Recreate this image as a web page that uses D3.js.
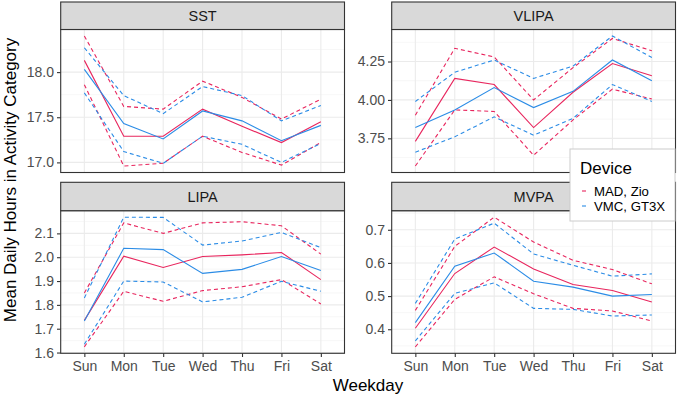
<!DOCTYPE html>
<html><head><meta charset="utf-8">
<script src="https://cdn.jsdelivr.net/npm/d3@7"></script>
<style>body{margin:0;background:#fff}svg{display:block;font-family:"Liberation Sans",Arial,Helvetica,sans-serif}</style>
</head><body><svg id="c" width="685" height="400"></svg>
<script>
const days = ["Sun","Mon","Tue","Wed","Thu","Fri","Sat"];
const facets = ["SST","VLIPA","LIPA","MVPA"];
const devices = ["MAD, Zio","VMC, GT3X"];

// SST
const sstMadMean = [18.13,17.29,17.29,17.59,17.40,17.22,17.45];
const sstMadHi   = [18.40,17.62,17.59,17.90,17.72,17.48,17.70];
const sstMadLo   = [17.86,16.96,16.99,17.29,17.11,16.97,17.22];
const sstVmcMean = [18.03,17.43,17.26,17.57,17.46,17.24,17.41];
const sstVmcHi   = [18.27,17.74,17.54,17.84,17.74,17.46,17.63];
const sstVmcLo   = [17.77,17.12,16.99,17.29,17.20,17.00,17.21];
// VLIPA
const vlipaMadMean = [3.73,4.14,4.10,3.82,4.05,4.237,4.157];
const vlipaMadHi   = [3.90,4.336,4.28,4.00,4.21,4.40,4.32];
const vlipaMadLo   = [3.57,3.935,3.925,3.64,3.87,4.07,4.006];
const vlipaVmcMean = [3.82,3.935,4.08,3.95,4.056,4.26,4.125];
const vlipaVmcHi   = [3.99,4.18,4.26,4.14,4.22,4.416,4.276];
const vlipaVmcLo   = [3.66,3.76,3.89,3.77,3.88,4.10,3.99];
// LIPA
const lipaMadMean = [1.735,2.004,1.957,2.003,2.01,2.02,1.906];
const lipaMadHi   = [1.85,2.144,2.10,2.144,2.149,2.132,2.013];
const lipaMadLo   = [1.624,1.857,1.815,1.86,1.876,1.906,1.804];
const lipaVmcMean = [1.732,2.0375,2.032,1.932,1.949,2.003,1.944];
const lipaVmcHi   = [1.829,2.168,2.167,2.051,2.068,2.104,2.04];
const lipaVmcLo   = [1.635,1.90,1.896,1.8125,1.832,1.899,1.857];
// MVPA
const mvpaMadMean = [0.403,0.568,0.648,0.582,0.535,0.517,0.482];
const mvpaMadHi   = [0.457,0.65,0.738,0.663,0.608,0.58,0.537];
const mvpaMadLo   = [0.347,0.49,0.558,0.507,0.463,0.455,0.425];
const mvpaVmcMean = [0.42,0.59,0.63,0.545,0.527,0.50,0.505];
const mvpaVmcHi   = [0.478,0.672,0.72,0.627,0.593,0.56,0.567];
const mvpaVmcLo   = [0.365,0.508,0.54,0.463,0.46,0.44,0.443];

// tick labels per facet
const sstTicks = [17.0,17.5,18.0];
const vlipaTicks = [3.75,4.00,4.25];
const lipaTicks = [1.6,1.7,1.8,1.9,2.0,2.1];
const mvpaTicks = [0.4,0.5,0.6,0.7];

const series = {
  SST:   {mad:[sstMadMean,sstMadHi,sstMadLo], vmc:[sstVmcMean,sstVmcHi,sstVmcLo], ticks:sstTicks, fmt:d3.format(".1f")},
  VLIPA: {mad:[vlipaMadMean,vlipaMadHi,vlipaMadLo], vmc:[vlipaVmcMean,vlipaVmcHi,vlipaVmcLo], ticks:vlipaTicks, fmt:d3.format(".2f")},
  LIPA:  {mad:[lipaMadMean,lipaMadHi,lipaMadLo], vmc:[lipaVmcMean,lipaVmcHi,lipaVmcLo], ticks:lipaTicks, fmt:d3.format(".1f")},
  MVPA:  {mad:[mvpaMadMean,mvpaMadHi,mvpaMadLo], vmc:[mvpaVmcMean,mvpaVmcHi,mvpaVmcLo], ticks:mvpaTicks, fmt:d3.format(".1f")}
};

const colors = {mad:"#E8265E", vmc:"#2B8CE6"};

const svg = d3.select("#c");
const cols = [[60.7,344.5],[391.7,675.5]];
const rows = [{st:2,pt:29.5,pb:172.5},{st:182.3,pt:210.7,pb:353.3}];

facets.forEach((f,i)=>{
  const c = cols[i%2], r = rows[Math.floor(i/2)];
  const s = series[f];
  const all = [...s.mad.flat(), ...s.vmc.flat()];
  const [mn,mx] = d3.extent(all);
  const pad = (mx-mn)*0.05;
  const x = d3.scalePoint().domain(days).range(c).padding(0.6);
  const y = d3.scaleLinear().domain([mn-pad,mx+pad]).range([r.pb,r.pt]);
  const g = svg.append("g");

  g.append("rect").attr("x",c[0]).attr("y",r.pt).attr("width",c[1]-c[0]).attr("height",r.pb-r.pt).attr("fill","#fff");
  const step = s.ticks[1]-s.ticks[0];
  const minor = [];
  for (let v = s.ticks[0]-step/2; v <= mx+pad; v += step) if (v>=mn-pad) minor.push(v);
  g.selectAll(".mn").data(minor).join("line")
    .attr("x1",c[0]).attr("x2",c[1]).attr("y1",d=>y(d)).attr("y2",d=>y(d))
    .attr("stroke","#F2F2F2").attr("stroke-width",0.6);
  g.selectAll(".mjy").data(s.ticks).join("line")
    .attr("x1",c[0]).attr("x2",c[1]).attr("y1",d=>y(d)).attr("y2",d=>y(d))
    .attr("stroke","#EBEBEB").attr("stroke-width",1.1);
  g.selectAll(".mjx").data(days).join("line")
    .attr("x1",d=>x(d)).attr("x2",d=>x(d)).attr("y1",r.pt).attr("y2",r.pb)
    .attr("stroke","#EBEBEB").attr("stroke-width",1.1);

  const line = d3.line().x((d,k)=>x(days[k])).y(d=>y(d));
  ["mad","vmc"].forEach(dev=>{
    s[dev].forEach((arr,j)=>{
      g.append("path").datum(arr).attr("d",line).attr("fill","none")
        .attr("stroke",colors[dev]).attr("stroke-width",1.1)
        .attr("stroke-dasharray", j===0 ? null : "4,3");
    });
  });

  g.append("rect").attr("x",c[0]).attr("y",r.pt).attr("width",c[1]-c[0]).attr("height",r.pb-r.pt)
    .attr("fill","none").attr("stroke","#333").attr("stroke-width",1.1);
  g.append("rect").attr("x",c[0]).attr("y",r.st).attr("width",c[1]-c[0]).attr("height",r.pt-r.st)
    .attr("fill","#D9D9D9").attr("stroke","#333").attr("stroke-width",1.1);
  g.append("text").attr("x",(c[0]+c[1])/2).attr("y",(r.st+r.pt)/2+5).attr("text-anchor","middle")
    .attr("font-size",14.5).attr("fill","#1A1A1A").text(f);

  const ya = g.append("g").attr("transform",`translate(${c[0]},0)`)
    .call(d3.axisLeft(y).tickValues(s.ticks).tickFormat(s.fmt).tickSize(3.7).tickPadding(3));
  ya.select(".domain").remove();
  ya.selectAll(".tick line").attr("stroke","#333").attr("stroke-width",1.1);
  ya.selectAll(".tick text").attr("font-size",14).attr("fill","#4D4D4D").attr("font-family","Liberation Sans, Arial, sans-serif");

  if (Math.floor(i/2)===1) {
    const xa = g.append("g").attr("transform",`translate(0,${r.pb})`)
      .call(d3.axisBottom(x).tickSize(3.7).tickPadding(4));
    xa.select(".domain").remove();
    xa.selectAll(".tick line").attr("stroke","#333").attr("stroke-width",1.1);
    xa.selectAll(".tick text").attr("font-size",14).attr("fill","#4D4D4D").attr("font-family","Liberation Sans, Arial, sans-serif");
  }
});

svg.append("text").attr("x",368).attr("y",391).attr("text-anchor","middle")
  .attr("font-size",17).attr("fill","#000").text("Weekday");
svg.append("text").attr("transform","translate(16,180) rotate(-90)").attr("text-anchor","middle")
  .attr("font-size",17).attr("fill","#000").text("Mean Daily Hours in Activity Category");

// legend
const lg = svg.append("g");
lg.append("rect").attr("x",570).attr("y",149).attr("width",105).attr("height",72)
  .attr("fill","#fff").attr("stroke","#CCCCCC").attr("stroke-width",1);
lg.append("text").attr("x",580).attr("y",174).attr("font-size",17).attr("fill","#000").text("Device");
devices.forEach((d,k)=>{
  const key = k===0 ? "mad" : "vmc";
  const yy = 191 + k*15;
  lg.append("line").attr("x1",582).attr("x2",586).attr("y1",yy).attr("y2",yy)
    .attr("stroke",colors[key]).attr("stroke-width",1.1);
  lg.append("text").attr("x",594).attr("y",yy+4.5).attr("font-size",13.2).attr("fill","#000").text(d);
});
</script>
</body></html>
